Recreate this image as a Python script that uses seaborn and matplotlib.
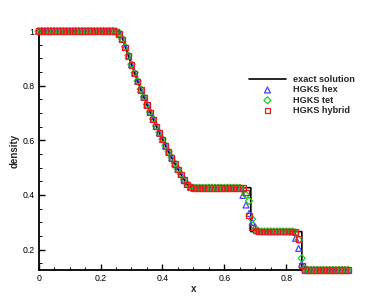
import matplotlib
matplotlib.use("Agg")
import matplotlib.pyplot as plt
import seaborn as sns
import pandas as pd
from matplotlib.ticker import FixedLocator, MultipleLocator

# ---------------- data ----------------
x_exact = [0.0, 0.2634, 0.27, 0.28, 0.29, 0.30, 0.31, 0.32, 0.33, 0.34, 0.35,
           0.36, 0.37, 0.38, 0.39, 0.40, 0.41, 0.42, 0.43, 0.44, 0.45, 0.46,
           0.47, 0.48, 0.4859, 0.6855, 0.6855, 0.8504, 0.8504, 1.0]
rho_exact = [1.0, 1.0, 0.9768, 0.9428, 0.9096, 0.8774, 0.8462, 0.8158, 0.7863,
             0.7577, 0.7299, 0.7030, 0.6768, 0.6514, 0.6268, 0.6029, 0.5798,
             0.5574, 0.5357, 0.5146, 0.4943, 0.4745, 0.4554, 0.4370, 0.4263,
             0.4263, 0.2656, 0.2656, 0.1250, 0.1250]

x_cells = [0.00, 0.01, 0.02, 0.03, 0.04, 0.05, 0.06, 0.07, 0.08, 0.09,
           0.10, 0.11, 0.12, 0.13, 0.14, 0.15, 0.16, 0.17, 0.18, 0.19,
           0.20, 0.21, 0.22, 0.23, 0.24, 0.25, 0.26, 0.27, 0.28, 0.29,
           0.30, 0.31, 0.32, 0.33, 0.34, 0.35, 0.36, 0.37, 0.38, 0.39,
           0.40, 0.41, 0.42, 0.43, 0.44, 0.45, 0.46, 0.47, 0.48, 0.49,
           0.50, 0.51, 0.52, 0.53, 0.54, 0.55, 0.56, 0.57, 0.58, 0.59,
           0.60, 0.61, 0.62, 0.63, 0.64, 0.65, 0.66, 0.67, 0.68, 0.69,
           0.70, 0.71, 0.72, 0.73, 0.74, 0.75, 0.76, 0.77, 0.78, 0.79,
           0.80, 0.81, 0.82, 0.83, 0.84, 0.85, 0.86, 0.87, 0.88, 0.89,
           0.90, 0.91, 0.92, 0.93, 0.94, 0.95, 0.96, 0.97, 0.98, 0.99,
           1.00]

rho_hex = [1.0, 1.0, 1.0, 1.0, 1.0, 1.0, 1.0, 1.0, 1.0, 1.0,
           1.0, 1.0, 1.0, 1.0, 1.0, 1.0, 1.0, 1.0, 1.0, 1.0,
           1.0, 1.0, 1.0, 1.0, 1.0, 0.998, 0.991, 0.970, 0.940, 0.909,
           0.877, 0.846, 0.816, 0.786, 0.758, 0.730, 0.703, 0.677, 0.651, 0.627,
           0.603, 0.580, 0.557, 0.536, 0.515, 0.494, 0.475, 0.456, 0.439, 0.428,
           0.426, 0.426, 0.426, 0.426, 0.426, 0.426, 0.426, 0.426, 0.426, 0.426,
           0.426, 0.426, 0.426, 0.426, 0.426, 0.425, 0.398, 0.363, 0.332, 0.300,
           0.283, 0.268, 0.266, 0.266, 0.266, 0.266, 0.266, 0.266, 0.266, 0.266,
           0.266, 0.266, 0.265, 0.241, 0.204, 0.146, 0.128, 0.125, 0.125, 0.125,
           0.125, 0.125, 0.125, 0.125, 0.125, 0.125, 0.125, 0.125, 0.125, 0.125,
           0.125]

rho_tet = [1.0, 1.0, 1.0, 1.0, 1.0, 1.0, 1.0, 1.0, 1.0, 1.0,
           1.0, 1.0, 1.0, 1.0, 1.0, 1.0, 1.0, 1.0, 1.0, 1.0,
           1.0, 1.0, 1.0, 1.0, 1.0, 0.999, 0.993, 0.972, 0.942, 0.910,
           0.878, 0.847, 0.817, 0.787, 0.759, 0.731, 0.704, 0.678, 0.652, 0.628,
           0.604, 0.581, 0.558, 0.537, 0.516, 0.495, 0.476, 0.457, 0.440, 0.429,
           0.426, 0.426, 0.426, 0.426, 0.426, 0.426, 0.426, 0.426, 0.426, 0.426,
           0.426, 0.426, 0.426, 0.426, 0.426, 0.426, 0.420, 0.400, 0.378, 0.311,
           0.276, 0.267, 0.266, 0.266, 0.266, 0.266, 0.266, 0.266, 0.266, 0.266,
           0.266, 0.266, 0.266, 0.262, 0.235, 0.168, 0.131, 0.125, 0.125, 0.125,
           0.125, 0.125, 0.125, 0.125, 0.125, 0.125, 0.125, 0.125, 0.125, 0.125,
           0.125]

rho_hybrid = [1.0, 1.0, 1.0, 1.0, 1.0, 1.0, 1.0, 1.0, 1.0, 1.0,
              1.0, 1.0, 1.0, 1.0, 1.0, 1.0, 1.0, 1.0, 1.0, 1.0,
              1.0, 1.0, 1.0, 1.0, 1.0, 0.998, 0.990, 0.969, 0.939, 0.908,
              0.876, 0.845, 0.815, 0.785, 0.757, 0.729, 0.702, 0.676, 0.650, 0.626,
              0.602, 0.579, 0.556, 0.535, 0.514, 0.493, 0.474, 0.455, 0.438, 0.428,
              0.426, 0.426, 0.426, 0.426, 0.426, 0.426, 0.426, 0.426, 0.426, 0.426,
              0.426, 0.426, 0.426, 0.426, 0.426, 0.426, 0.425, 0.408, 0.324, 0.281,
              0.269, 0.266, 0.266, 0.266, 0.266, 0.266, 0.266, 0.266, 0.266, 0.266,
              0.266, 0.266, 0.266, 0.264, 0.239, 0.141, 0.126, 0.125, 0.125, 0.125,
              0.125, 0.125, 0.125, 0.125, 0.125, 0.125, 0.125, 0.125, 0.125, 0.125,
              0.125]

series_names = ["HGKS hex", "HGKS tet", "HGKS hybrid"]
x_ticks = [0.0, 0.2, 0.4, 0.6, 0.8]
x_tick_labels = ["0", "0.2", "0.4", "0.6", "0.8"]
y_ticks = [0.2, 0.4, 0.6, 0.8, 1.0]
y_tick_labels = ["0.2", "0.4", "0.6", "0.8", "1"]

# ---------------- plotting ----------------
sns.set_style("ticks")
plt.rcParams["font.family"] = ["Liberation Sans", "DejaVu Sans"]

fig = plt.figure(figsize=(3.87, 3.01), dpi=100)
ax = fig.add_axes([0.0997, 0.103, 0.80, 0.794])

exact_df = pd.DataFrame({"x": x_exact, "density": rho_exact})
sns.lineplot(data=exact_df, x="x", y="density", sort=False, estimator=None,
             color="black", linewidth=1.2, ax=ax, label="exact solution",
             zorder=2)

styles = [("^", "#4646ff"), ("D", "#22cc22"), ("s", "#e02020")]
sizes = [18, 13, 16]
for name, vals, (mk, col), sz in zip(series_names,
                                     [rho_hex, rho_tet, rho_hybrid],
                                     styles, sizes):
    df = pd.DataFrame({"x": x_cells, "density": vals})
    sns.scatterplot(data=df, x="x", y="density", marker=mk, s=sz,
                    color=col, facecolor="none", edgecolor=col,
                    linewidth=0.9, ax=ax, label=name, clip_on=False,
                    zorder=3)

ax.set_xlim(0, 1.0)
ax.set_ylim(0.125, 1.0)
ax.xaxis.set_major_locator(FixedLocator(x_ticks))
ax.set_xticklabels(x_tick_labels)
ax.yaxis.set_major_locator(FixedLocator(y_ticks))
ax.set_yticklabels(y_tick_labels)
ax.xaxis.set_minor_locator(MultipleLocator(0.05))
ax.yaxis.set_minor_locator(MultipleLocator(0.05))
ax.tick_params(which="major", direction="in", length=4.5, width=1.0,
               labelsize=6.3, pad=3, colors="black")
ax.tick_params(which="minor", direction="in", length=2.5, width=0.7,
               colors="black")

for side in ["top", "right"]:
    ax.spines[side].set_visible(False)
for side in ["left", "bottom"]:
    ax.spines[side].set_linewidth(1.3)
    ax.spines[side].set_color("black")

ax.set_xlabel("x", fontsize=7, fontweight="bold", labelpad=0.5)
ax.set_ylabel("density", fontsize=7, fontweight="bold", labelpad=2)

leg = ax.legend(loc="center left", bbox_to_anchor=(0.68, 0.732),
                frameon=False, fontsize=6.6, handlelength=4.0,
                handletextpad=0.8, labelspacing=0.15, borderpad=0,
                borderaxespad=0, scatterpoints=1)
for t in leg.get_texts():
    t.set_fontweight("bold")

fig.savefig("out.png", dpi=100)
